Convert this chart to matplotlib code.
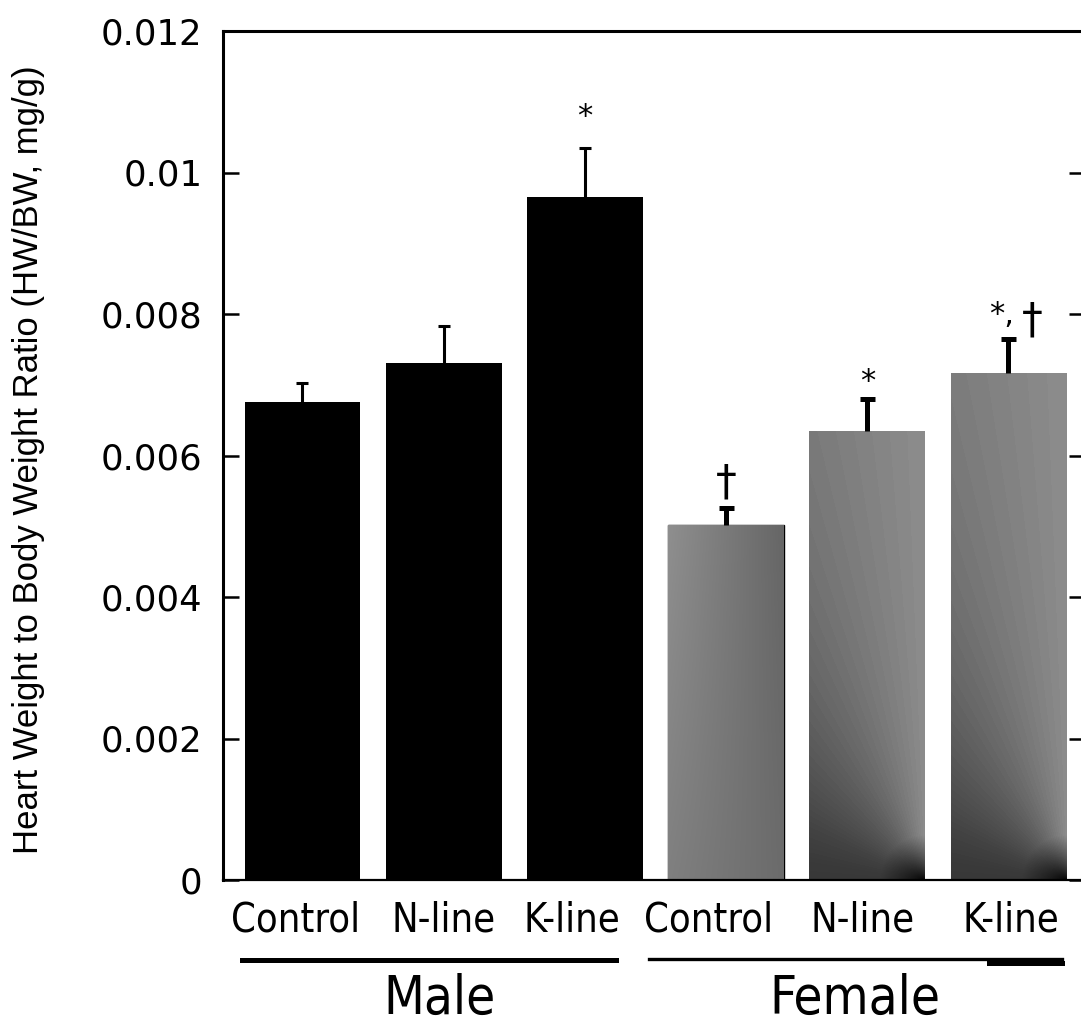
import numpy as np
import matplotlib
matplotlib.use("Agg")
import matplotlib.pyplot as plt
from matplotlib.transforms import blended_transform_factory
from matplotlib.lines import Line2D

# ---- data -------------------------------------------------------------
group_names = ["Male", "Female"]
tick_labels = ["Control", "N-line", "K-line", "Control", "N-line", "K-line"]
ratio_mean = [0.00676, 0.00731, 0.00966, 0.00502, 0.00634, 0.00716]
ratio_err = [0.00026, 0.00052, 0.00068, 0.00024, 0.00046, 0.00049]
sig_marks = ["", "", "*", "\u2020", "*", "*,\u2020"]
y_ticks = [0, 0.002, 0.004, 0.006, 0.008, 0.01, 0.012]
y_tick_labels = ["0", "0.002", "0.004", "0.006", "0.008", "0.01", "0.012"]
y_label = "Heart Weight to Body Weight Ratio (HW/BW, mg/g)"

# ---- layout -----------------------------------------------------------
W, H = 1081, 1019
fig = plt.figure(figsize=(W / 100, H / 100), dpi=100)
ax = fig.add_axes([223 / W, (H - 880) / H, (1085 - 223) / W, 849 / H])

xpos = np.arange(len(ratio_mean))
bar_w = 0.82
face = ["black"] * 3 + ["#7a7a7a"] * 3
bars = ax.bar(xpos, ratio_mean, width=bar_w, color=face, linewidth=0, zorder=1)
bars[3].set_edgecolor("black")
bars[3].set_linewidth(1.0)

ax.set_xlim(-0.563, 5.542)
ax.set_ylim(0, 0.012)


def fan_shade(w, h, dark=0.22, light=0.56, power=1.5, corner_r=45.0):
    """Angular shading radiating from the lower-right corner of a bar."""
    X, Y = np.meshgrid(np.arange(w) + 0.5, np.arange(h) + 0.5)
    dx = w - X
    th = np.arctan2(Y, dx) / (np.pi / 2)
    th = np.floor(th * 40) / 40
    v = dark + (light - dark) * th ** power
    r = np.hypot(dx, Y)
    v = v * np.clip(r / corner_r, 0, 1) ** 0.7
    return v


def tilt_shade(w, h, tl=0.56, tr=0.40, bl=0.50, br=0.42):
    """Bilinear shading between four corner grey levels."""
    u, t = np.meshgrid(np.linspace(0, 1, w), np.linspace(0, 1, h))
    return (bl * (1 - u) * (1 - t) + br * u * (1 - t)
            + tl * (1 - u) * t + tr * u * t)


fig.canvas.draw()
for i in range(3, 6):
    rect = bars[i]
    x0, y0 = rect.get_x(), rect.get_y()
    x1, y1 = x0 + rect.get_width(), y0 + rect.get_height()
    (px0, py0), (px1, py1) = ax.transData.transform([(x0, y0), (x1, y1)])
    w, h = int(round(px1 - px0)), int(round(py1 - py0))
    v = tilt_shade(w, h) if i == 3 else fan_shade(w, h)
    rgb = np.dstack([v, v, v])
    im = ax.imshow(rgb, extent=(x0, x1, y0, y1), origin="lower",
                   aspect="auto", interpolation="bilinear", zorder=1.2)
    im.set_clip_path(rect)

ax.set_xlim(-0.563, 5.542)
ax.set_ylim(0, 0.012)

# upper-only error bars
for idx, lw, cap in [((0, 1, 2), 2.2, 4.6), ((3, 4, 5), 3.6, 5.4)]:
    idx = list(idx)
    eb = ax.errorbar(xpos[idx], [ratio_mean[k] for k in idx],
                     yerr=[[0] * len(idx), [ratio_err[k] for k in idx]],
                     fmt="none", ecolor="black", elinewidth=lw,
                     capsize=cap, capthick=lw, zorder=3)
    eb[1][0].set_visible(False)

# significance marks above the error bars (offsets in points)
mark_style = {
    2: [("*", 0, 17, 22)],
    3: [("\u2020", 0, 9.5, 30)],
    4: [("*", 0, 6.5, 22)],
    5: [("*,", -4.7, 11.5, 22), ("\u2020", 17, 4.3, 30)],
}
for i, m in enumerate(sig_marks):
    if not m:
        continue
    for txt, dx, dy, size in mark_style[i]:
        ax.annotate(txt, xy=(xpos[i], ratio_mean[i] + ratio_err[i]),
                    xytext=(dx, dy), textcoords="offset points",
                    ha="center", va="baseline", fontsize=size,
                    family="DejaVu Sans", zorder=4)

# axes styling
for side in ["left", "top", "bottom", "right"]:
    ax.spines[side].set_linewidth(2.2)
    ax.spines[side].set_color("black")
ax.spines["bottom"].set_linewidth(1.6)
ax.set_yticks(y_ticks)
ax.set_yticklabels(y_tick_labels, family="DejaVu Sans", fontsize=25.5)
ax.tick_params(axis="y", direction="in", length=11.5, width=1.8,
               pad=15, left=True, right=True)
ax.set_xticks([])

fig.text(29 / W, 1 - 460 / H, y_label, rotation=90, ha="center",
         va="center", fontsize=25, family="Liberation Sans")

# category labels and group rules beneath the axis
bx = blended_transform_factory(ax.transData, fig.transFigure)
label_shift = [-0.046, 0.002, -0.095, -0.125, -0.034, 0.014]
cond = dict(family="DejaVu Sans", fontstretch="condensed")
for i, lab in enumerate(tick_labels):
    ax.text(xpos[i] + label_shift[i], (H - 932) / H, lab, transform=bx,
            ha="center", va="baseline", fontsize=28.5, clip_on=False, **cond)

ax.add_line(Line2D([-0.428, 2.22], [(H - 960) / H] * 2, transform=bx,
                   color="black", lw=3.6, clip_on=False))
ax.add_line(Line2D([2.454, 5.378], [(H - 959) / H] * 2, transform=bx,
                   color="black", lw=2.4, clip_on=False))
ax.add_line(Line2D([4.862, 5.378], [(H - 963) / H] * 2, transform=bx,
                   color="black", lw=3.6, clip_on=False))

for gx, g in zip([0.97, 3.913], group_names):
    ax.text(gx, (H - 1014) / H, g, transform=bx, ha="center",
            va="baseline", fontsize=38, clip_on=False, **cond)

fig.savefig("out.png", dpi=100)
